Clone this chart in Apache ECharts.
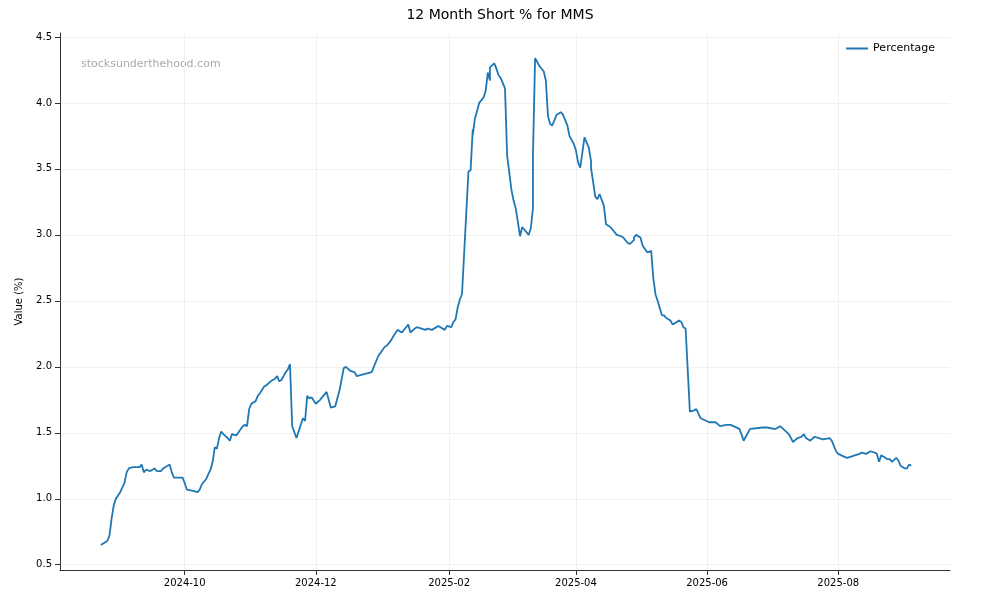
<!DOCTYPE html>
<html><head><meta charset="utf-8">
<script src="https://cdn.jsdelivr.net/npm/echarts@6/dist/echarts.min.js"></script>
<style>html,body{margin:0;padding:0;background:#fff}#c{width:1000px;height:600px}</style>
</head><body><div id="c"></div>
<script>
// days from 2024-10-01
const days = [-39,-36,-35,-34,-33,-32,-30,-28,-27,-26,-24,-21,-20,-19,-18,-16,-14,-13,-11,-10,-7,-6,-5,-1,0,1,4,6,7,8,10,12,13,14,15,16,17,18,20,21,22,24,27,28,29,30,31,33,34,35,37,38,40,42,43,44,45,47,48,49,50,52,55,56,57,58,59,61,63,64,66,68,70,72,74,75,77,79,80,87,90,93,94,96,97,99,101,104,105,107,108,112,113,115,118,121,122,124,125,126,127,128,129,132,133,134,134,135,137,139,140,141,142,142,144,145,146,147,149,150,152,153,154,156,157,160,161,162,162,163,165,167,168,169,170,171,173,174,175,176,178,179,181,182,183,183,184,186,188,189,189,191,192,193,195,196,198,201,203,204,206,207,209,209,210,212,213,215,216,217,218,219,220,222,223,224,225,226,227,230,231,232,233,235,237,238,240,244,247,249,252,254,258,259,260,261,263,269,271,274,275,277,279,281,283,285,287,288,289,291,293,295,297,300,301,303,304,308,310,312,314,315,317,319,321,322,323,324,327,328,329,331,332,333,335,336,336,337,338];
const values = [0.65,0.68,0.72,0.85,0.95,1.00,1.05,1.12,1.20,1.23,1.24,1.24,1.26,1.20,1.22,1.21,1.23,1.21,1.21,1.23,1.26,1.20,1.16,1.16,1.12,1.07,1.06,1.05,1.07,1.11,1.15,1.22,1.28,1.39,1.38,1.46,1.51,1.49,1.46,1.44,1.49,1.48,1.55,1.56,1.55,1.68,1.72,1.74,1.78,1.80,1.85,1.86,1.89,1.91,1.93,1.89,1.90,1.96,1.98,2.02,1.55,1.46,1.61,1.59,1.78,1.76,1.77,1.72,1.75,1.77,1.81,1.69,1.70,1.82,1.99,2.00,1.97,1.96,1.93,1.96,2.08,2.15,2.16,2.20,2.23,2.28,2.26,2.32,2.26,2.29,2.30,2.28,2.29,2.28,2.31,2.28,2.31,2.30,2.34,2.36,2.45,2.51,2.55,3.48,3.49,3.80,3.76,3.88,4.00,4.04,4.09,4.23,4.17,4.27,4.30,4.26,4.21,4.19,4.11,3.60,3.34,3.26,3.20,2.99,3.06,3.00,3.05,3.20,3.60,4.34,4.28,4.24,4.17,3.90,3.84,3.83,3.91,3.92,3.93,3.91,3.83,3.75,3.69,3.64,3.55,3.54,3.51,3.74,3.66,3.56,3.51,3.29,3.27,3.31,3.22,3.08,3.06,3.00,2.99,2.98,2.94,2.93,2.96,2.98,3.00,2.98,2.92,2.87,2.87,2.88,2.67,2.55,2.50,2.39,2.39,2.37,2.36,2.35,2.32,2.35,2.34,2.30,2.29,1.66,1.67,1.68,1.61,1.58,1.58,1.55,1.56,1.56,1.53,1.49,1.44,1.47,1.53,1.54,1.54,1.53,1.53,1.55,1.52,1.49,1.43,1.46,1.47,1.49,1.46,1.44,1.47,1.46,1.45,1.46,1.44,1.36,1.34,1.31,1.32,1.33,1.34,1.35,1.34,1.36,1.35,1.34,1.28,1.33,1.30,1.30,1.28,1.31,1.29,1.25,1.23,1.23,1.24,1.26,1.25,1.28];
const xTicks = ['2024-10-01','2024-12-01','2025-02-01','2025-04-01','2025-06-01','2025-08-01'];
const yTicks = [0.5,1.0,1.5,2.0,2.5,3.0,3.5,4.0,4.5];

const base = Date.UTC(2024,9,1);
const data = days.map((d,i)=>[base + d*86400000, values[i]]);
const xTickMs = xTicks.map(s=>Date.parse(s+'T00:00:00Z'));
const fmtX = v=>{const d=new Date(v);return d.getUTCFullYear()+'-'+String(d.getUTCMonth()+1).padStart(2,'0');};
const chart = echarts.init(document.getElementById('c'));
chart.setOption({
  animation:false,
  title:{text:'12 Month Short % for MMS',left:'center',top:3,textStyle:{fontSize:14,fontWeight:'normal',color:'#000',fontFamily:'DejaVu Sans'}},
  legend:{right:60,top:38,itemWidth:22,itemHeight:2,icon:'rect',textStyle:{fontSize:11,color:'#000',fontFamily:'DejaVu Sans'},data:['Percentage']},
  graphic:[{type:'text',left:81,top:59,style:{text:'stocksunderthehood.com',fill:'#aaa',font:'11px DejaVu Sans'}}],
  grid:{left:60,right:50,top:33,bottom:30},
  xAxis:{type:'value',min:Date.UTC(2024,7,4),max:Date.UTC(2025,8,22),
    axisLine:{show:true,lineStyle:{color:'#333'}},axisTick:{show:true,customValues:xTickMs,lineStyle:{color:'#333'}},
    axisLabel:{customValues:xTickMs,formatter:fmtX,color:'#000',fontSize:10,fontFamily:'DejaVu Sans'},
    splitLine:{show:true,lineStyle:{color:'#f0f0f0'}}},
  yAxis:{type:'value',min:0.46,max:4.53,name:'Value (%)',nameLocation:'middle',nameGap:36,nameTextStyle:{fontSize:10,color:'#000',fontFamily:'DejaVu Sans'},
    axisLine:{show:true,lineStyle:{color:'#333'}},axisTick:{show:true,customValues:yTicks,lineStyle:{color:'#333'}},
    axisLabel:{customValues:yTicks,formatter:v=>v.toFixed(1),color:'#000',fontSize:10,fontFamily:'DejaVu Sans'},
    splitLine:{show:true,lineStyle:{color:'#f0f0f0'}}},
  series:[{name:'Percentage',type:'line',data:data,showSymbol:false,lineStyle:{color:'#1f77b4',width:1.8},itemStyle:{color:'#1f77b4'}}]
});
</script></body></html>
